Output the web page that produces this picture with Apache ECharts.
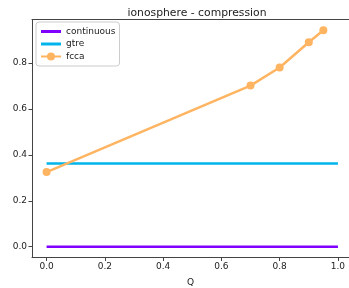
<!DOCTYPE html>
<html>
<head>
<meta charset="utf-8">
<script src="https://cdn.jsdelivr.net/npm/echarts@6/dist/echarts.min.js"></script>
<style>html,body{margin:0;padding:0;background:#fff}#c{width:349px;height:288px}</style>
</head>
<body>
<div id="c"></div>
<script>
const seriesNames = ['continuous', 'gtre', 'fcca'];
const continuousQ = [0, 1];
const continuousVal = [0, 0];
const gtreQ = [0, 1];
const gtreVal = [0.362, 0.362];
const fccaQ = [0, 0.7, 0.8, 0.9, 0.95];
const fccaVal = [0.325, 0.702, 0.781, 0.891, 0.943];
const xTicks = [0, 0.2, 0.4, 0.6, 0.8, 1.0];
const yTicks = [0, 0.2, 0.4, 0.6, 0.8];

const pair = (xs, ys) => xs.map((x, i) => [x, ys[i]]);
const font = 'DejaVu Sans';
const lineIcon = 'path://M0,0H20V3H0Z';
const axisColor = '#444';
const chart = echarts.init(document.getElementById('c'), null, {renderer: 'canvas'});
chart.setOption({
  animation: false,
  title: {
    text: 'ionosphere - compression', left: 192, textAlign: 'center', top: 3,
    textStyle: {fontFamily: font, fontSize: 10.8, fontWeight: 'normal', color: '#222'}
  },
  legend: {
    orient: 'vertical', left: 36, top: 22, padding: [5, 4, 5, 4],
    itemWidth: 20, itemHeight: 10, itemGap: 3.5,
    borderColor: '#ccc', borderWidth: 1, borderRadius: 3,
    backgroundColor: 'rgba(255,255,255,0.8)',
    textStyle: {fontFamily: font, fontSize: 9, color: '#222'},
    data: [
      {name: seriesNames[0], icon: lineIcon},
      {name: seriesNames[1], icon: lineIcon},
      {name: seriesNames[2]}
    ]
  },
  grid: {left: 32, right: 0, top: 19.5, bottom: 30.5, show: false, containLabel: false, outerBoundsMode: 'none'},
  xAxis: [{
    type: 'value', min: -0.05, max: 1.038, name: 'Q', nameLocation: 'middle', nameGap: 21,
    nameTextStyle: {fontFamily: font, fontSize: 9, color: '#222'},
    splitLine: {show: false},
    axisLine: {show: true, onZero: false, lineStyle: {color: axisColor}},
    axisTick: {show: true, length: 3.5, customValues: xTicks, lineStyle: {color: axisColor}},
    axisLabel: {customValues: xTicks, fontFamily: font, fontSize: 9, color: '#222', margin: 5,
      formatter: v => v.toFixed(1)}
  }, {
    type: 'value', position: 'top', min: -0.05, max: 1.038,
    splitLine: {show: false},
    axisLine: {show: true, onZero: false, lineStyle: {color: axisColor}},
    axisTick: {show: false}, axisLabel: {show: false}
  }],
  yAxis: {
    type: 'value', min: -0.04715, max: 0.99015,
    splitLine: {show: false},
    axisLine: {show: true, onZero: false, lineStyle: {color: axisColor}},
    axisTick: {show: true, length: 3.5, customValues: yTicks, lineStyle: {color: axisColor}},
    axisLabel: {customValues: yTicks, fontFamily: font, fontSize: 9, color: '#222', margin: 5,
      formatter: v => v.toFixed(1)}
  },
  series: [
    {name: seriesNames[0], type: 'line', data: pair(continuousQ, continuousVal), symbol: 'none',
      lineStyle: {color: '#8000ff', width: 2.5}, itemStyle: {color: '#8000ff'}},
    {name: seriesNames[1], type: 'line', data: pair(gtreQ, gtreVal), symbol: 'none',
      lineStyle: {color: '#00b4eb', width: 2.5}, itemStyle: {color: '#00b4eb'}},
    {name: seriesNames[2], type: 'line', data: pair(fccaQ, fccaVal), symbol: 'circle', symbolSize: 8,
      lineStyle: {color: '#ffb462', width: 2.5}, itemStyle: {color: '#ffb462'}}
  ]
});
</script>
</body>
</html>
